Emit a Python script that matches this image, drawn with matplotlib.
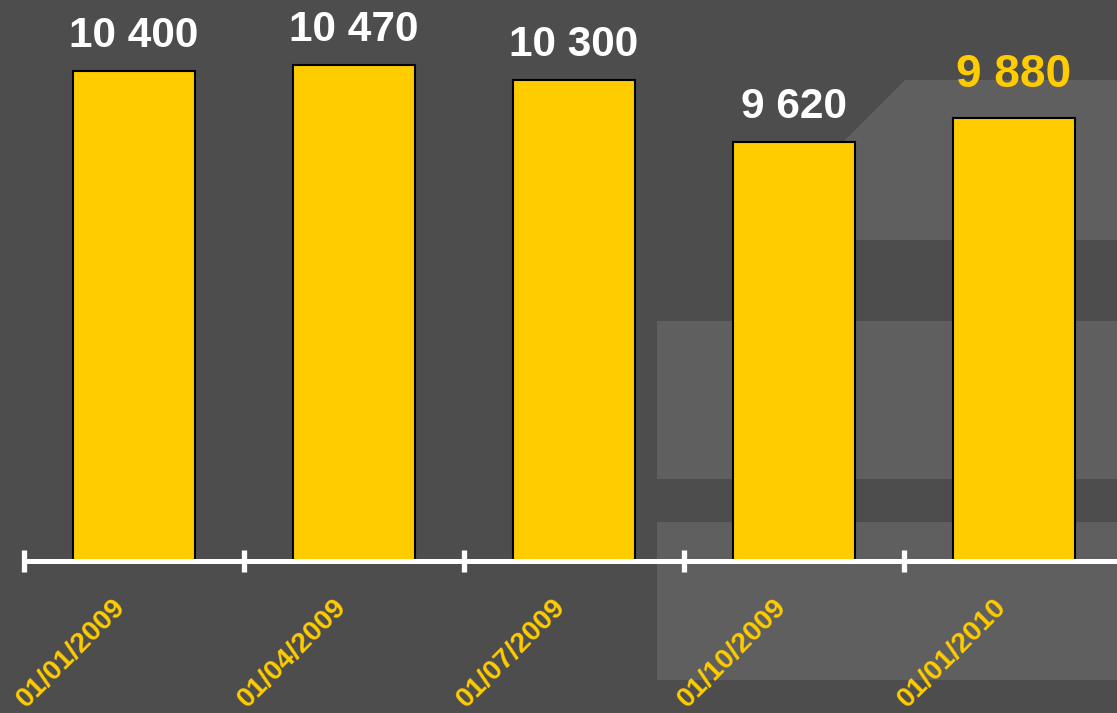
# -*- coding: utf-8 -*-
"""
季度数值柱状图 - 深灰背景, 黄色柱子
"""

import numpy as np
import matplotlib
matplotlib.use('Agg')
import matplotlib.pyplot as plt
from matplotlib.patches import Polygon, Rectangle

plt.rcParams['font.family'] = ['Liberation Sans', 'DejaVu Sans']
plt.rcParams['font.weight'] = 'bold'

# 数据
dates = ['01/01/2009', '01/04/2009', '01/07/2009', '01/10/2009', '01/01/2010']
values = [10400, 10470, 10300, 9620, 9880]
value_labels = ['10 400', '10 470', '10 300', '9 620', '9 880']
highlight = [False, False, False, False, True]
base = 5000

BG = '#4d4d4d'
LIGHT = '#5f5f5f'
YELLOW = '#ffcc00'

W, H = 1117, 713
fig = plt.figure(figsize=(W / 100, H / 100), dpi=100, facecolor=BG)


def fx(px):
    return px / W


def fy(py):
    return 1 - py / H


# 背景装饰块
deco = [
    Polygon([(fx(905), fy(80)), (fx(1117), fy(80)), (fx(1117), fy(240)), (fx(745), fy(240))]),
    Rectangle((fx(657), fy(479)), fx(460), (479 - 321) / H),
    Rectangle((fx(657), fy(680)), fx(460), (680 - 522) / H),
]
for p in deco:
    p.set_transform(fig.transFigure)
    p.set_facecolor(LIGHT)
    p.set_edgecolor('none')
    p.set_zorder(-10)
    fig.patches.append(p)

ax = fig.add_axes([0, 0, 1, 1])
ax.set_facecolor('none')
x = np.arange(len(values))
xmax = 4.468
ax.set_xlim(-0.609, xmax)
ax.set_ylim(3325, 11183)

ax.bar(x, np.array(values) - base, bottom=base, width=0.555,
       color=YELLOW, edgecolor='black', linewidth=1.5, zorder=2)

# 坐标轴
for side in ['top', 'left', 'right']:
    ax.spines[side].set_visible(False)
sp = ax.spines['bottom']
sp.set_position(('data', base))
sp.set_bounds(-0.5, xmax)
sp.set_color('white')
sp.set_linewidth(3.6)
sp.set_capstyle('round')
sp.set_zorder(3)
ax.set_yticks([])
ax.set_xticks(x - 0.5, labels=[''] * len(x))
ax.tick_params(axis='x', direction='inout', length=16, width=3.8, color='white')

# 日期标签
for xi, d in zip(x, dates):
    ax.annotate(d, (xi, base), xytext=(-7, -47), textcoords='offset pixels',
                rotation=45, rotation_mode='anchor', ha='right', va='baseline',
                fontsize=20.5, fontweight='bold', color=YELLOW)

# 数值标签
for xi, v, lbl, hl in zip(x, values, value_labels, highlight):
    ax.annotate(lbl, (xi, v), xytext=(0, 31 if hl else 24), textcoords='offset pixels',
                ha='center', va='baseline', fontweight='bold',
                fontsize=33 if hl else 30.5, color=YELLOW if hl else 'white')

fig.savefig('out.png', dpi=100, facecolor=BG)
